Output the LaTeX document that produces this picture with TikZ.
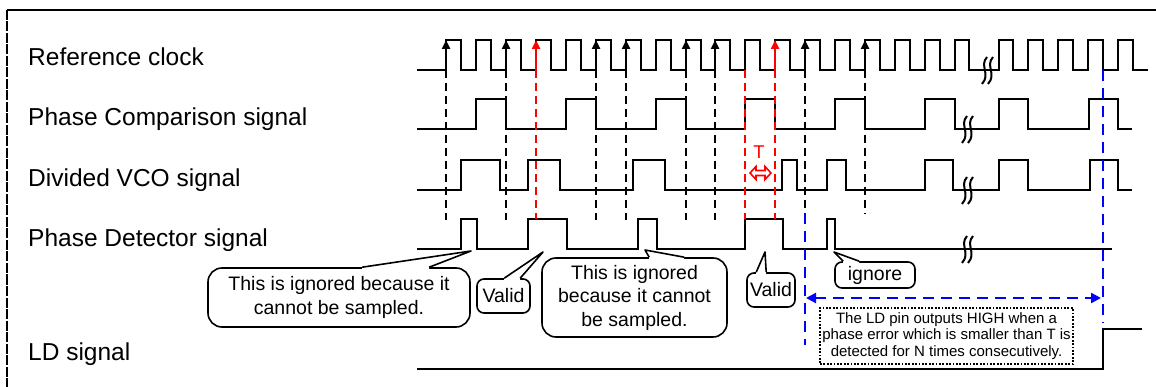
\documentclass[tikz,border=0pt]{standalone}
\usepackage{fontspec}
\setmainfont{Liberation Sans}
\usetikzlibrary{arrows.meta}

\begin{document}
\begin{tikzpicture}[x=1pt, y=-1pt,
				    wave/.style={line width=2.7pt, line join=miter},
				    guide/.style={line width=2pt, dash pattern=on 8pt off 5pt},
				    redguide/.style={guide, red},
				    blueguide/.style={line width=2.4pt, blue, dash pattern=on 11pt off 7pt},
				    tick/.style={line width=2.4pt, -{Triangle[width=8pt,length=9pt]}},
				    redtick/.style={tick, red},
				    sig/.style={anchor=base west, inner sep=0pt, font=\fontsize{24.5}{29}\selectfont},
				    bubble/.style={draw, line width=1.6pt, fill=white, rounded corners=14pt,
				    			   inner sep=0pt, align=center, font=\fontsize{19.5}{23.5}\selectfont},
				    smallbubble/.style={bubble, rounded corners=7pt},
				    ptr/.style={line width=1.6pt, line join=round},
				    note/.style={draw, line width=1.8pt, dash pattern=on 1.8pt off 1.6pt, fill=white,
				    			 inner sep=0pt, align=center, font=\fontsize{15}{16.7}\selectfont},
				    brk/.pic={
				    	\draw[line width=2pt] (2,-13) .. controls (-6,-4) and (6,4) .. (-3,14);
				    	\draw[line width=2pt] (8,-13) .. controls (0,-4) and (12,4) .. (3,14);
				    }]
	\useasboundingbox (0,0) rectangle (1156,387);
	\draw[line width=2pt] (7,10) -- (1156,10);
	\draw[line width=1.5pt, dash pattern=on 10pt off 1.5pt] (7,10) -- (7,387);

	\node[sig] (lref) at (28,66) {Reference clock};
	\node[sig] (lpc) at (28,126) {Phase Comparison signal};
	\node[sig] (ldv) at (28,187) {Divided VCO signal};
	\node[sig] (lpd) at (28,247) {Phase Detector signal};
	\node[sig] (lld) at (28,360) {LD signal};

	\draw[wave] (417,70) -| (446,40) -| (461,70) -| (476,40) -| (491,70) -| (506,40) -| (521,70)
		-| (536,40) -| (551,70) -| (566,40) -| (581,70) -| (596,40) -| (611,70) -| (626,40) -| (641,70)
		-| (656,40) -| (671,70) -| (686,40) -| (701,70) -| (715,40) -| (730,70) -| (745,40) -| (760,70)
		-| (775,40) -| (790,70) -| (805,40) -| (820,70) -| (835,40) -| (850,70) -| (865,40) -| (880,70)
		-| (895,40) -| (910,70) -| (925,40) -| (940,70) -| (955,40) -| (969,70) -| (999,40) -| (1013,70)
		-| (1028,40) -| (1043,70) -| (1058,40) -| (1073,70) -| (1088,40) -| (1103,70) -| (1118,40)
		-| (1133,70) -- (1148,70);
	\draw[wave] (417,129) -| (476,99) -| (506,129) -| (566,99) -| (596,129) -| (656,99) -| (686,129)
		-| (745,99) -| (775,129) -| (835,99) -| (865,129) -| (925,99) -| (955,129) -| (999,99)
		-| (1028,129) -| (1089,99) -| (1118,129) -- (1132,129);
	\draw[wave] (417,190) -| (461,160) -| (500,190) -| (528,160) -| (560,190) -| (633,160) -| (665,190)
		-| (782,160) -| (797,190) -| (827,160) -| (846,190) -| (925,160) -| (953,190) -| (999,160)
		-| (1028,190) -| (1090,160) -| (1118,190) -- (1132,190);
	\draw[wave] (417,249) -| (461,219) -| (477,249) -| (528,219) -| (567,249) -| (638,219) -| (657,249)
		-| (745,219) -| (783,249) -| (827,219) -| (835,249) -- (1112,249);
	\draw[wave] (417,369) -| (1103,329) -- (1142,329);

	\pic at (985,70) {brk};
	\pic at (965,129) {brk};
	\pic at (965,190) {brk};
	\pic at (965,249) {brk};

	\draw[guide] (446,70) -- (446,220);
	\draw[guide] (506,70) -- (506,220);
	\draw[guide] (596,70) -- (596,220);
	\draw[guide] (626,70) -- (626,220);
	\draw[guide] (686,70) -- (686,220);
	\draw[guide] (715,70) -- (715,220);
	\draw[guide] (805,70) -- (805,213);
	\draw[guide] (865,70) -- (865,214);
	\draw[redguide] (536,70) -- (536,219);
	\draw[redguide] (745,70) -- (745,219);
	\draw[redguide] (775,70) -- (775,219);

	\draw[tick] (446,70) -- (446,40);
	\draw[tick] (506,70) -- (506,40);
	\draw[tick] (596,70) -- (596,40);
	\draw[tick] (626,70) -- (626,40);
	\draw[tick] (686,70) -- (686,40);
	\draw[tick] (715,70) -- (715,40);
	\draw[tick] (805,70) -- (805,40);
	\draw[tick] (865,70) -- (865,40);
	\draw[redtick] (536,70) -- (536,40);
	\draw[redtick] (775,70) -- (775,40);

	\node[text=red, inner sep=0pt, font=\fontsize{18.5}{20}\selectfont] (tlab) at (759,152) {T};
	\draw[red, line width=1.6pt, fill=white, line join=miter] (750,173) -- (756,166.5) -- (756,170.5) -- (765,170.5)
		-- (765,166.5) -- (771,173) -- (765,179.5) -- (765,175.5) -- (756,175.5) -- (756,179.5) -- cycle;

	\coordinate (bl) at (805,298);
	\coordinate (br) at (1103,298);
	\draw[blueguide] (805,213) -- (805,345);
	\draw[blueguide] (1103,70) -- (1103,323);
	\draw[blueguide, {Triangle[width=10pt,length=10pt]}-{Triangle[width=10pt,length=10pt]}]
		([xshift=1pt]bl) -- ([xshift=-2pt]br);

	\node[bubble, minimum width=262pt, minimum height=59pt] (c1) at (339,297.5)
		{This is ignored because it\\cannot be sampled.};
	\node[smallbubble, minimum width=53pt, minimum height=34pt] (c2) at (503.5,296) {Valid};
	\node[bubble, minimum width=185pt, minimum height=79pt] (c3) at (634.5,297.5)
		{This is ignored\\because it cannot\\be sampled.};
	\node[smallbubble, minimum width=48pt, minimum height=34pt] (c4) at (771,290) {Valid};
	\node[smallbubble, minimum width=80pt, minimum height=26pt] (c5) at (875,275) {ignore};

	\coordinate (p1) at (471,251);
	\coordinate (p2) at (543,252);
	\coordinate (p3) at (645,250);
	\coordinate (p4) at (765,252);
	\coordinate (p5) at (834,252);

	\fill[white] ([xshift=155pt,yshift=-3pt]c1.north west) -- ([xshift=155pt]c1.north west) -- (p1)
		-- ([xshift=222pt]c1.north west) -- ([xshift=222pt,yshift=-3pt]c1.north west) -- cycle;
	\draw[ptr] ([xshift=155pt]c1.north west) -- (p1) -- ([xshift=222pt]c1.north west);
	\fill[white] ([xshift=28pt,yshift=-3pt]c2.north west) -- ([xshift=28pt]c2.north west) -- (p2)
		-- ([xshift=44pt]c2.north west) -- ([xshift=44pt,yshift=-3pt]c2.north west) -- cycle;
	\draw[ptr] ([xshift=28pt]c2.north west) -- (p2) -- ([xshift=44pt]c2.north west);
	\fill[white] ([xshift=108pt,yshift=-3pt]c3.north west) -- ([xshift=108pt]c3.north west) -- (p3)
		-- ([xshift=143pt]c3.north west) -- ([xshift=143pt,yshift=-3pt]c3.north west) -- cycle;
	\draw[ptr] ([xshift=108pt]c3.north west) -- (p3) -- ([xshift=143pt]c3.north west);
	\fill[white] ([xshift=10pt,yshift=-3pt]c4.north west) -- ([xshift=10pt]c4.north west) -- (p4)
		-- ([xshift=20pt]c4.north west) -- ([xshift=20pt,yshift=-3pt]c4.north west) -- cycle;
	\draw[ptr] ([xshift=10pt]c4.north west) -- (p4) -- ([xshift=20pt]c4.north west);
	\fill[white] ([xshift=9pt,yshift=-3pt]c5.north west) -- ([xshift=9pt]c5.north west) -- (p5)
		-- ([xshift=25pt]c5.north west) -- ([xshift=25pt,yshift=-3pt]c5.north west) -- cycle;
	\draw[ptr] ([xshift=9pt]c5.north west) -- (p5) -- ([xshift=25pt]c5.north west);

	\node[note, minimum width=253pt, minimum height=56pt] (ldnote) at (946.5,336)
		{The LD pin outputs HIGH when a\\phase error which is smaller than T is\\detected for N times consecutively.};
\end{tikzpicture}
\end{document}
